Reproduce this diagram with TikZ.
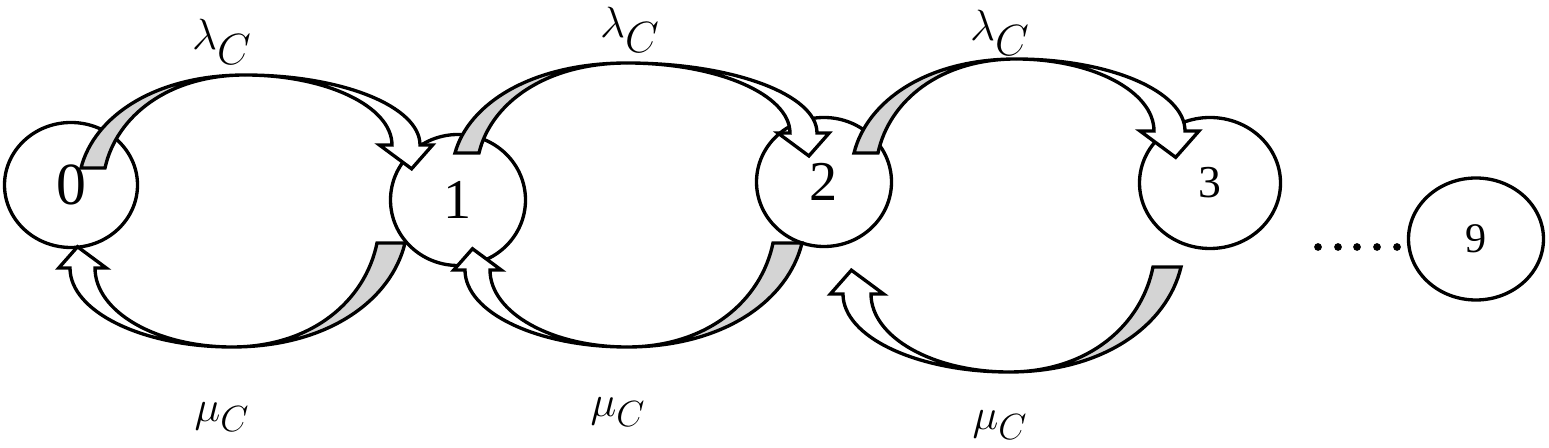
\documentclass[tikz,border=0pt]{standalone}
\usepackage{fontspec}
\setmainfont{Liberation Serif}
\usetikzlibrary{shapes.geometric}
\tikzset{
  ell/.style 2 args={ellipse, draw, line width=1.9pt, inner sep=0pt,
    minimum width=#1*0.02cm, minimum height=#2*0.02cm},
  blk/.style={line width=1.9pt, line join=miter},
  lam/.style={inner sep=0pt, font=\fontsize{34}{40}\selectfont},
  mu/.style={inner sep=0pt, font=\fontsize{28}{34}\selectfont},
}
\definecolor{bandgray}{RGB}{212,212,212}
% #1 tail outer x, #2 tail inner x, #3 tail y, #4 peak x, #5 peak y,
% #6 head outer x, #7 head inner x, #8 head base y
\newcommand\crvarrow[8]{%
  \pgfmathsetmacro\crvAx{#1+0.08*(#4-#1)}%
  \pgfmathsetmacro\crvAy{#3+0.5523*(#5-#3)}%
  \pgfmathsetmacro\crvBx{#4+0.5523*(#1-#4)}%
  \pgfmathsetmacro\crvCx{#4+0.5523*(#2-#4)}%
  \pgfmathsetmacro\crvDx{#2+0.08*(#4-#2)}%
  \draw[blk, fill=bandgray] (#1,#3) .. controls (\crvAx,\crvAy) and (\crvBx,#5) .. (#4,#5)
     .. controls (\crvCx,#5) and (\crvDx,\crvAy) .. (#2,#3) -- cycle;
  \pgfmathsetmacro\crvEx{#4+0.5523*(#6-#4)}%
  \pgfmathsetmacro\crvEy{#8+0.5523*(#5-#8)}%
  \pgfmathsetmacro\crvFx{#4+0.5523*(#7-#4)}%
  \pgfmathsetmacro\crvWo{#6+0.45*(#6-#7)}%
  \pgfmathsetmacro\crvWi{#7-0.45*(#6-#7)}%
  \pgfmathsetmacro\crvTx{(#6+#7)/2+0.2*(#6-#7)}%
  \pgfmathsetmacro\crvTy{#8+0.85*(#6-#7)}%
  \draw[blk, fill=white] (#4,#5) .. controls (\crvEx,#5) and (#6,\crvEy) .. (#6,#8)
     -- (\crvWo,#8) -- (\crvTx,\crvTy) -- (\crvWi,#8) -- (#7,#8)
     .. controls (#7,\crvEy) and (\crvFx,#5) .. (#4,#5) -- cycle;
}
\begin{document}
\begin{tikzpicture}[x=0.02cm, y=-0.02cm]
\useasboundingbox (0,0) rectangle (1549,448);
% states
\node[ell={133}{125}, font=\fontsize{34}{40}\selectfont] (s0) at (71,185) {0};
\node[ell={135}{131}, font=\fontsize{32}{38}\selectfont] (s1) at (458,200) {1};
\node[ell={135}{129}, font=\fontsize{32}{38}\selectfont] (s2) at (824,182) {2};
\node[ell={141}{131}, font=\fontsize{26}{32}\selectfont] (s3) at (1210,183) {3};
\node[ell={135}{122}, font=\fontsize{24}{30}\selectfont] (s9) at (1476,239) {9};
% dots
\foreach \dx in {1318,1338,1357,1377,1397} \fill (\dx,247) circle (2.2pt);
% top arrows (arrivals)
\crvarrow{81}{105}{168}{245}{75}{420}{392}{145}
\crvarrow{455}{479}{153}{627}{63}{817}{790}{133}
\crvarrow{854}{878}{153}{1016}{59}{1185}{1154}{131}
% bottom arrows (services)
\crvarrow{405}{377}{243}{232}{347}{70}{95}{268}
\crvarrow{802}{773}{243}{627}{347}{465}{490}{270}
\crvarrow{1181}{1153}{267}{1009}{372}{843}{871}{294}
% labels
\node[lam] (la1) at (222,42) {$\lambda_C$};
\node[lam] (la2) at (630,30) {$\lambda_C$};
\node[lam] (la3) at (1000,33) {$\lambda_C$};
\node[mu] (mu1) at (222,417) {$\mu_C$};
\node[mu] (mu2) at (618,412) {$\mu_C$};
\node[mu] (mu3) at (1000,425) {$\mu_C$};
\end{tikzpicture}
\end{document}
